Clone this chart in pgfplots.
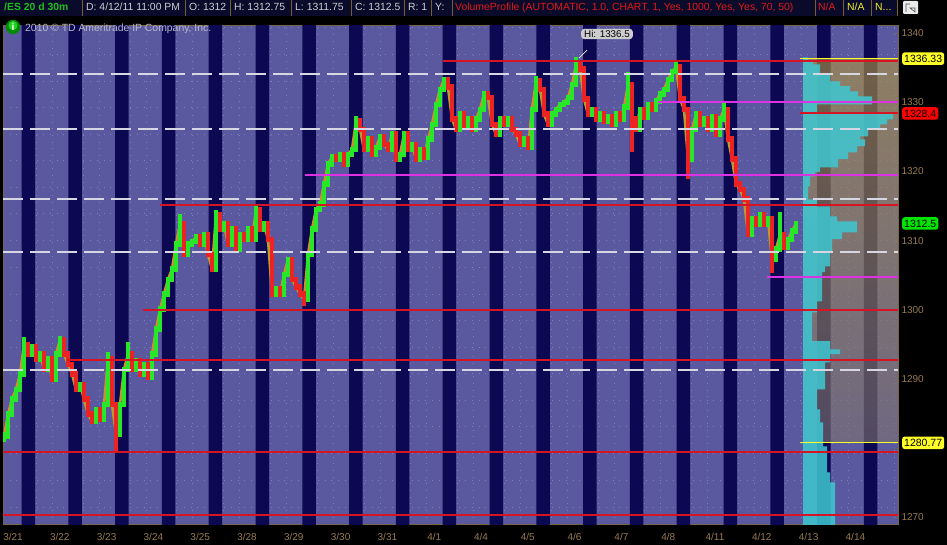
\documentclass[border=0pt]{standalone}
\usepackage{fontspec}
\setmainfont{Liberation Sans}
\usepackage{pgfplots}
\usepackage{pgfplotstable}
\pgfplotsset{compat=1.18}
\definecolor{bglight}{RGB}{90,88,158}
\definecolor{bgdark}{RGB}{12,8,82}
\definecolor{frame}{RGB}{120,100,70}
\definecolor{ticktan}{RGB}{150,122,82}
\definecolor{cgreen}{RGB}{40,230,40}
\definecolor{cred}{RGB}{235,35,35}
\definecolor{cmix}{RGB}{190,150,50}
\definecolor{lred}{RGB}{215,20,35}
\definecolor{lmag}{RGB}{220,50,225}
\definecolor{lyel}{RGB}{255,255,40}
\definecolor{ldash}{RGB}{215,215,228}
\definecolor{vpcyan}{RGB}{62,200,210}
\definecolor{vatop}{RGB}{175,150,65}
\definecolor{vabot}{RGB}{125,115,110}
\definecolor{hdrbg}{RGB}{10,10,42}
\definecolor{hdrsep}{RGB}{120,95,55}
\definecolor{hdrtxt}{RGB}{205,205,210}
\definecolor{hdrgreen}{RGB}{30,190,30}
\definecolor{hdrred}{RGB}{225,25,25}
\definecolor{hdryel}{RGB}{240,240,40}
\definecolor{copytxt}{RGB}{185,185,205}
\definecolor{gridc}{RGB}{128,126,188}
\definecolor{bubble}{RGB}{205,205,208}

% closing prices along the session (x = bar position)
\pgfplotstableread{
x c
4 1281.7
8 1284.9
12 1287.1
16 1288.5
20 1290.7
24 1295.0
28 1293.6
32 1294.6
36 1292.9
40 1293.6
44 1291.4
48 1292.9
52 1290.0
56 1293.6
60 1295.7
64 1293.6
68 1292.1
72 1290.7
76 1288.5
80 1289.2
84 1287.1
88 1284.9
92 1283.9
96 1285.6
100 1284.2
104 1286.3
108 1292.9
112 1286.3
116 1282.0
120 1286.3
124 1291.4
128 1293.6
132 1291.4
136 1292.6
140 1290.7
144 1292.1
148 1290.2
152 1293.6
156 1297.2
160 1300.1
164 1302.3
168 1304.4
172 1305.9
176 1309.5
180 1312.4
184 1308.0
188 1309.5
192 1309.9
196 1310.5
200 1309.5
204 1310.9
208 1308.0
212 1305.9
216 1313.8
220 1311.7
224 1312.4
228 1309.5
232 1311.7
236 1308.8
240 1310.9
244 1310.2
248 1311.7
252 1310.2
256 1314.5
260 1311.7
264 1312.4
268 1310.2
272 1302.3
276 1303.0
280 1302.3
284 1305.1
288 1307.3
292 1304.4
296 1303.3
300 1302.3
304 1301.5
308 1308.0
312 1311.7
316 1314.5
320 1315.3
324 1318.2
328 1321.1
332 1322.1
336 1321.8
340 1322.5
344 1321.1
348 1322.5
352 1323.2
356 1327.3
360 1326.1
364 1323.2
368 1324.7
372 1322.5
376 1323.5
380 1325.0
384 1323.9
388 1323.2
392 1325.4
396 1321.8
400 1322.5
404 1325.4
408 1323.2
412 1323.9
416 1321.8
420 1323.2
424 1322.1
428 1324.7
432 1326.8
436 1329.7
440 1331.9
444 1333.3
448 1332.2
452 1327.6
456 1326.1
460 1328.3
464 1326.4
468 1327.6
472 1326.1
476 1327.6
480 1329.0
484 1331.2
488 1330.7
492 1326.8
496 1325.4
500 1327.6
504 1326.8
508 1327.6
512 1326.1
516 1325.4
520 1323.9
524 1324.7
528 1323.5
532 1329.0
536 1333.1
540 1331.9
544 1328.3
548 1326.8
552 1328.3
556 1329.0
560 1329.7
564 1330.0
568 1330.7
572 1332.6
576 1335.5
580 1334.8
584 1330.5
588 1328.3
592 1329.0
596 1327.6
600 1328.3
604 1327.3
608 1327.9
612 1326.8
616 1328.3
620 1327.6
624 1329.3
628 1332.6
632 1327.6
636 1326.1
640 1329.0
644 1327.9
648 1329.7
652 1329.0
656 1330.2
660 1331.2
664 1331.9
668 1333.3
672 1334.5
676 1335.1
680 1330.5
684 1329.0
688 1321.8
692 1326.1
696 1328.3
700 1326.8
704 1327.6
708 1326.1
712 1327.9
716 1325.4
720 1327.6
724 1329.0
728 1324.7
732 1321.8
736 1318.2
740 1317.4
744 1316.0
748 1310.9
752 1313.1
756 1312.4
760 1313.8
764 1312.4
768 1313.1
772 1307.3
776 1308.8
780 1310.9
784 1309.1
788 1310.2
792 1311.4
796 1312.5
}\closes

% green candles: x lo hi
\pgfplotstableread{
x lo hi
4 1280.9 1282.3
8 1281.3 1285.3
12 1284.5 1287.5
16 1286.7 1288.9
20 1288.1 1291.1
24 1290.3 1296.0
32 1293.2 1295.0
40 1292.5 1294.0
48 1291.0 1293.3
56 1289.6 1294.0
60 1293.2 1296.2
80 1288.1 1289.6
96 1283.5 1286.0
104 1283.8 1286.7
108 1285.9 1293.9
120 1281.6 1286.7
124 1285.9 1291.8
128 1291.0 1295.3
136 1291.0 1293.0
144 1290.3 1292.5
152 1289.8 1294.0
156 1293.2 1297.6
160 1296.8 1300.5
164 1299.7 1302.7
168 1301.9 1304.8
172 1304.0 1306.3
176 1305.5 1309.9
180 1309.1 1313.8
188 1307.6 1309.9
192 1309.1 1310.3
196 1309.5 1310.9
204 1309.1 1311.3
216 1305.5 1314.5
224 1311.3 1312.8
232 1309.1 1312.1
240 1308.4 1311.3
248 1309.8 1312.1
256 1309.8 1315.0
264 1311.3 1312.8
276 1301.9 1303.4
284 1301.9 1305.5
288 1304.7 1307.7
308 1301.1 1308.4
312 1307.6 1312.1
316 1311.3 1314.9
320 1314.1 1315.7
324 1314.9 1318.6
328 1317.8 1321.5
332 1320.7 1322.5
340 1321.4 1322.9
348 1320.7 1322.9
352 1322.1 1323.6
356 1322.8 1328.0
368 1322.8 1325.1
376 1322.1 1323.9
380 1323.1 1325.4
392 1322.8 1325.8
400 1321.4 1322.9
404 1322.1 1325.8
412 1322.8 1324.3
420 1321.4 1323.6
428 1321.7 1325.1
432 1324.3 1327.2
436 1326.4 1330.1
440 1329.3 1332.3
444 1331.5 1333.7
460 1325.7 1328.7
468 1326.0 1328.0
476 1325.7 1328.0
480 1327.2 1329.4
484 1328.6 1331.6
500 1325.0 1328.0
508 1326.4 1328.0
524 1323.5 1325.1
532 1323.1 1329.4
536 1328.6 1333.8
552 1326.4 1328.7
556 1327.9 1329.4
560 1328.6 1330.1
564 1329.3 1330.4
568 1329.6 1331.1
572 1330.3 1333.0
576 1332.2 1336.5
592 1327.9 1329.4
600 1327.2 1328.7
608 1326.9 1328.3
616 1326.4 1328.7
624 1327.2 1329.7
628 1328.9 1334.4
640 1325.7 1329.4
648 1327.5 1330.1
656 1328.6 1330.6
660 1329.8 1331.6
664 1330.8 1332.3
668 1331.5 1333.7
672 1332.9 1334.9
676 1334.1 1336.0
692 1321.4 1326.5
696 1325.7 1328.7
704 1326.4 1328.0
712 1325.7 1328.3
720 1325.0 1328.0
724 1327.2 1330.2
752 1310.5 1313.5
760 1312.0 1314.2
768 1312.0 1313.5
776 1306.9 1309.2
780 1308.4 1314.1
788 1308.7 1310.6
792 1309.8 1311.8
796 1311.0 1312.9
}\gbars

% red candles: x lo hi
\pgfplotstableread{
x lo hi
28 1293.2 1295.4
36 1292.5 1295.0
44 1291.0 1294.0
52 1289.6 1293.3
64 1293.2 1296.1
68 1291.7 1294.0
72 1290.3 1292.5
76 1288.1 1291.1
84 1286.7 1289.6
88 1284.5 1287.5
92 1283.5 1285.3
100 1283.8 1286.0
112 1285.9 1293.3
116 1279.4 1286.7
132 1291.0 1294.0
140 1290.3 1293.0
148 1289.8 1292.5
184 1307.6 1312.8
200 1309.1 1310.9
208 1307.6 1311.3
212 1305.5 1308.4
220 1311.3 1314.2
228 1309.1 1312.8
236 1308.4 1312.1
244 1309.8 1311.3
252 1309.8 1312.1
260 1311.3 1314.9
268 1309.8 1312.8
272 1301.9 1310.6
280 1301.9 1303.4
292 1304.0 1307.7
296 1302.9 1304.8
300 1301.9 1303.7
304 1300.5 1302.7
336 1321.4 1322.5
344 1320.7 1322.9
360 1325.7 1327.7
364 1322.8 1326.5
372 1322.1 1325.1
384 1323.5 1325.4
388 1322.8 1324.3
396 1321.4 1325.8
408 1322.8 1325.8
416 1321.4 1324.3
424 1321.7 1323.6
448 1331.8 1333.7
452 1327.2 1332.6
456 1325.7 1328.0
464 1326.0 1328.7
472 1325.7 1328.0
488 1330.3 1331.6
492 1326.4 1331.1
496 1325.0 1327.2
504 1326.4 1328.0
512 1325.7 1328.0
516 1325.0 1326.5
520 1323.5 1325.8
528 1323.1 1325.1
540 1331.5 1333.5
544 1327.9 1332.3
548 1326.4 1328.7
580 1334.4 1335.9
584 1330.1 1335.2
588 1327.9 1330.9
596 1327.2 1329.4
604 1326.9 1328.7
612 1326.4 1328.3
620 1327.2 1328.7
632 1322.8 1333.0
636 1325.7 1328.0
644 1327.5 1329.4
652 1328.6 1330.1
680 1330.1 1335.5
684 1328.6 1330.9
688 1318.9 1329.4
700 1326.4 1328.7
708 1325.7 1328.0
716 1325.0 1328.3
728 1324.3 1329.4
732 1321.4 1325.1
736 1317.8 1322.2
740 1317.0 1318.6
744 1315.6 1317.8
748 1310.5 1316.4
756 1312.0 1313.5
764 1312.0 1314.2
772 1305.4 1313.5
784 1308.7 1311.3
}\rbars

\begin{document}
\begin{tikzpicture}[x=1pt,y=1pt]
\fill[black] (0,0) rectangle (947,545);
\path[use as bounding box] (0,0) rectangle (947,545);

% ---------- header bar ----------
\fill[hdrbg] (0,529) rectangle (897,545);
\foreach \sx in {82,185,230,291,351,404,431,452,815,843,871,897}{
  \draw[hdrsep, line width=0.8pt] (\sx,529) -- (\sx,545);
}
\begin{scope}[every node/.style={anchor=base west, inner sep=0pt, font=\fontsize{10.4}{12}\selectfont}]
\node[text=hdrgreen, font=\fontsize{10.4}{12}\selectfont\bfseries] at (4,534.5) {/ES 20 d 30m};
\node[text=hdrtxt] at (86,534.5) {D: 4/12/11 11:00 PM};
\node[text=hdrtxt] at (189,534.5) {O: 1312};
\node[text=hdrtxt] at (234,534.5) {H: 1312.75};
\node[text=hdrtxt] at (295,534.5) {L: 1311.75};
\node[text=hdrtxt] at (355,534.5) {C: 1312.5};
\node[text=hdrtxt] at (408,534.5) {R: 1};
\node[text=hdrtxt] at (435,534.5) {Y:};
\node[text=hdrred] at (455,534.5) {VolumeProfile (AUTOMATIC, 1.0, CHART, 1, Yes, 1000, Yes, Yes, 70, 50)};
\node[text=hdrred] at (818,534.5) {N/A};
\node[text=hdryel] at (847,534.5) {N/A};
\node[text=hdryel] at (875,534.5) {N...};
\end{scope}
% small settings icon
\fill[white!85!gray, rounded corners=1pt] (903,531) rectangle (918,544);
\draw[gray!60!black, line width=0.6pt] (906,533) -- (906,541) -- (910,541) (910,537) -- (915,537) -- (915,533) -- cycle;

% ---------- price axis ----------
\begin{axis}[
  at={(3,30)}, anchor=south west,
  width=895pt, height=499pt, scale only axis,
  xmin=3, xmax=898, ymin=1268.99, ymax=1341.16,
  axis background/.style={fill=bglight},
  axis line style={draw=frame, line width=0.8pt},
  xtick={13,59.8,106.6,153.4,200.2,247,293.8,340.6,387.4,434.2,481,527.8,574.6,621.4,668.2,715,761.8,808.6,855.4},
  xticklabels={3/21,3/22,3/23,3/24,3/25,3/28,3/29,3/30,3/31,4/1,4/4,4/5,4/6,4/7,4/8,4/11,4/12,4/13,4/14},
  xtick style={draw=none},
  ytick={1270,1280,1290,1300,1310,1320,1330,1340},
  yticklabels={1270,,1290,1300,1310,1320,1330,1340},
  yticklabel pos=right, ytick pos=right,
  ytick style={draw=frame, line width=0.6pt},
  major tick length=3pt,
  minor tick length=0pt,
  tick label style={font=\fontsize{10}{12}\selectfont, text=ticktan},
  xticklabel style={yshift=-5pt},
  /pgf/number format/1000 sep={},
  /pgf/number format/assume math mode=true,
  minor xtick={36.4,83.2,130,176.8,223.6,270.4,317.2,364,410.8,457.6,504.4,551.2,598,644.8,691.6,738.4,785.2,832,878.8,52.3,99.1,145.9,192.7,239.5,286.3,333.1,379.9,426.7,473.5,520.3,567.1,613.9,660.7,707.5,754.3,801.1,847.9,894.7},
  minor ytick={1271.5,1275.4,1279.2,1283.1,1286.9,1290.8,1294.6,1298.5,1302.3,1306.2,1310.0,1313.9,1317.7,1321.6,1325.4,1329.3,1333.1,1337.0,1340.8},
  xminorgrids, yminorgrids,
  minor grid style={draw=gridc, line width=0.7pt, dash pattern=on 0.7pt off 6pt},
  clip=true,
]
% dark session bands
\addplot[fill=bgdark, draw=none] coordinates {
 (0,1266) (21.5,1266) (21.5,1344) (35,1344) (35,1266)
 (68.3,1266) (68.3,1344) (81.8,1344) (81.8,1266)
 (115.1,1266) (115.1,1344) (128.6,1344) (128.6,1266)
 (161.9,1266) (161.9,1344) (175.4,1344) (175.4,1266)
 (208.7,1266) (208.7,1344) (222.2,1344) (222.2,1266)
 (255.5,1266) (255.5,1344) (269.0,1344) (269.0,1266)
 (302.3,1266) (302.3,1344) (315.8,1344) (315.8,1266)
 (349.1,1266) (349.1,1344) (362.6,1344) (362.6,1266)
 (395.9,1266) (395.9,1344) (409.4,1344) (409.4,1266)
 (442.7,1266) (442.7,1344) (456.2,1344) (456.2,1266)
 (489.5,1266) (489.5,1344) (503.0,1344) (503.0,1266)
 (536.3,1266) (536.3,1344) (549.8,1344) (549.8,1266)
 (583.1,1266) (583.1,1344) (596.6,1344) (596.6,1266)
 (629.9,1266) (629.9,1344) (643.4,1344) (643.4,1266)
 (676.7,1266) (676.7,1344) (690.2,1344) (690.2,1266)
 (723.5,1266) (723.5,1344) (737.0,1344) (737.0,1266)
 (770.3,1266) (770.3,1344) (783.8,1344) (783.8,1266)
 (817.1,1266) (817.1,1344) (830.6,1344) (830.6,1266)
 (863.9,1266) (863.9,1344) (877.4,1344) (877.4,1266)
 (905,1266)};

% value area overlay
\addplot[draw=none, top color=vatop, bottom color=vabot, fill opacity=0.62] coordinates {
 (803,1280.77) (898,1280.77) (898,1336.33) (803,1336.33)};

% volume profile histogram
\addplot[fill=vpcyan, fill opacity=0.85, draw=none] coordinates {
 (803,1268.5) (803,1336.5) (808,1336.5) (808,1335.95) (813,1335.95) (813,1335.5)
 (820,1335.5) (820,1334.07) (830,1334.07) (830,1333.06) (840,1333.06) (840,1332.34)
 (850,1332.34) (850,1331.61) (858,1331.61) (858,1330.89) (872,1330.89) (872,1329.73)
 (817,1329.73) (817,1328.43) (893,1328.43) (893,1327.56) (887,1327.56) (887,1326.84)
 (880,1326.84) (880,1326.12) (868,1326.12) (868,1325.1) (860,1325.1) (860,1324.67)
 (865,1324.67) (865,1323.66) (857,1323.66) (857,1322.79) (848,1322.79) (848,1321.78)
 (838,1321.78) (838,1320.62) (820,1320.62) (820,1319.9) (815,1319.9) (815,1319.32)
 (810,1319.32) (810,1317.87) (808,1317.87) (808,1315.99) (817,1315.99) (817,1314.98)
 (830,1314.98) (830,1313.53) (837,1313.53) (837,1312.81) (857,1312.81) (857,1311.22)
 (842,1311.22) (842,1310.21) (832,1310.21) (832,1308.33) (830,1308.33) (830,1306.3)
 (825,1306.3) (825,1305.44) (822,1305.44) (822,1301.24) (817,1301.24) (817,1299.65)
 (812,1299.65) (812,1295.46) (830,1295.46) (830,1294.3) (840,1294.3) (840,1293.58)
 (830,1293.58) (830,1292.42) (825,1292.42) (825,1288.51) (817,1288.51) (817,1285.62)
 (820,1285.62) (820,1283.74) (823,1283.74) (823,1280.27) (827,1280.27) (827,1276.51)
 (830,1276.51) (830,1275.06) (835,1275.06) (835,1268.5)};

% close path beneath the candles
\addplot[cmix, line width=2.6pt, line join=round, mark=none] table[x=x, y=c] {\closes};

% candles (high-low bars)
\addplot[draw=none, mark=none, error bars/.cd, y dir=plus, y explicit, error mark=none,
  error bar style={line width=3.4pt, draw=cgreen}]
  table[x=x, y=lo, y error plus expr={\thisrow{hi}-\thisrow{lo}}] {\gbars};
\addplot[draw=none, mark=none, error bars/.cd, y dir=plus, y explicit, error mark=none,
  error bar style={line width=3.4pt, draw=cred}]
  table[x=x, y=lo, y error plus expr={\thisrow{hi}-\thisrow{lo}}] {\rbars};

% white dashed levels
\addplot[ldash, line width=2pt, dash pattern=on 20pt off 7pt] coordinates {(3,1334.07) (898,1334.07)};
\addplot[ldash, line width=2pt, dash pattern=on 20pt off 7pt] coordinates {(3,1326.1) (898,1326.1)};
\addplot[ldash, line width=2pt, dash pattern=on 20pt off 7pt] coordinates {(3,1316.0) (898,1316.0)};
\addplot[ldash, line width=2pt, dash pattern=on 20pt off 7pt] coordinates {(3,1308.3) (898,1308.3)};
\addplot[ldash, line width=2pt, dash pattern=on 20pt off 7pt] coordinates {(3,1291.3) (898,1291.3)};

% red levels
\addplot[lred, line width=2pt] coordinates {(443,1336.0) (898,1336.0)};
\addplot[lred, line width=2pt] coordinates {(800,1328.4) (898,1328.4)};
\addplot[lred, line width=2pt] coordinates {(160,1315.15) (898,1315.15)};
\addplot[lred, line width=2pt] coordinates {(143,1300.0) (898,1300.0)};
\addplot[lred, line width=2pt] coordinates {(67,1292.75) (898,1292.75)};
\addplot[lred, line width=2pt] coordinates {(3,1279.44) (898,1279.44)};
\addplot[lred, line width=2pt] coordinates {(3,1270.33) (898,1270.33)};

% magenta levels
\addplot[lmag, line width=2pt] coordinates {(658,1330.0) (898,1330.0)};
\addplot[lmag, line width=2pt] coordinates {(305,1319.5) (898,1319.5)};
\addplot[lmag, line width=2pt] coordinates {(767,1304.8) (898,1304.8)};

% yellow value-area limits
\addplot[lyel, line width=1pt] coordinates {(800,1336.33) (898,1336.33)};
\addplot[lyel, line width=1pt] coordinates {(800,1280.77) (898,1280.77)};

\coordinate (Lva) at (axis cs:898,1336.33);
\coordinate (Lred) at (axis cs:898,1328.4);
\coordinate (Llast) at (axis cs:898,1312.5);
\coordinate (Lval) at (axis cs:898,1280.77);
\coordinate (Hpt) at (axis cs:579,1336.4);
\end{axis}

% copyright line
\fill[green!55!black] (13,518) circle (7.2);
\fill[green!75!white, opacity=0.6] (13,519.5) circle (4.5);
\node[text=white, font=\fontsize{10}{11}\selectfont\bfseries, inner sep=0pt] at (13,518) {i};
\node[anchor=base west, inner sep=0pt, text=copytxt, font=\fontsize{10.4}{12}\selectfont] at (25,513.5) {2010 \textcopyright{} TD Ameritrade IP Company, Inc.};

% Hi bubble
\draw[white!85!gray, line width=0.8pt] (Hpt) -- ++(8,8);
\node[fill=bubble, rounded corners=3pt, inner xsep=3pt, inner ysep=1.5pt, text=black,
      font=\fontsize{9.8}{11}\selectfont] at (607,511) {Hi: 1336.5};

% right-side value boxes
\coordinate (xr) at (902,0);
\begin{scope}[every node/.style={anchor=west, rounded corners=2.5pt, inner xsep=2pt, inner ysep=0pt,
   minimum height=12.5pt, text=black, font=\fontsize{10.5}{12}\selectfont}]
\node[fill=lyel] at (xr |- Lva) {1336.33};
\node[fill=red] at (xr |- Lred) {1328.4};
\node[fill=green!90!black] at (xr |- Llast) {1312.5};
\node[fill=lyel] at (xr |- Lval) {1280.77};
\end{scope}
\end{tikzpicture}
\end{document}
